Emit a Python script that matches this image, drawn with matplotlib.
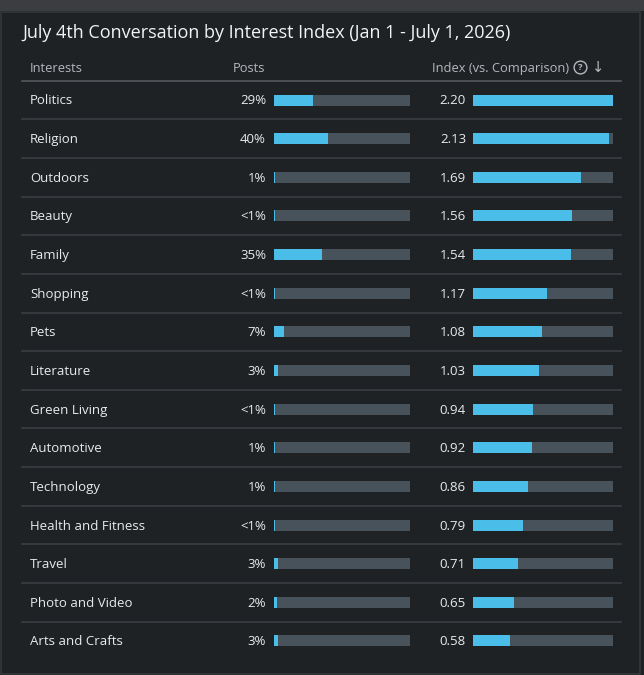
import matplotlib
matplotlib.use("Agg")
import matplotlib.pyplot as plt
from matplotlib.patches import Rectangle

interests = ["Politics", "Religion", "Outdoors", "Beauty", "Family", "Shopping", "Pets",
             "Literature", "Green Living", "Automotive", "Technology", "Health and Fitness",
             "Travel", "Photo and Video", "Arts and Crafts"]
posts_pct = [29, 40, 1, 0.4, 35, 0.4, 7, 3, 0.4, 1, 1, 0.4, 3, 2, 3]
posts_labels = ["29%", "40%", "1%", "<1%", "35%", "<1%", "7%", "3%", "<1%", "1%", "1%",
                "<1%", "3%", "2%", "3%"]
index_vals = [2.20, 2.13, 1.69, 1.56, 1.54, 1.17, 1.08, 1.03, 0.94, 0.92, 0.86, 0.79,
              0.71, 0.65, 0.58]

BG = "#1f2225"
TRACK = "#48525a"
BLUE = "#4bbde9"
TXT = "#e8eaec"
HDR = "#b4b8bc"
SEP = "#3a3e42"

plt.rcParams["font.family"] = ["Open Sans", "DejaVu Sans"]

W, H = 644, 675
fig = plt.figure(figsize=(W / 100, H / 100), dpi=100)
fig.patch.set_facecolor(BG)

ax = fig.add_axes([0, 0, 1, 1])
ax.set_xlim(0, W)
ax.set_ylim(H, 0)
ax.axis("off")

# top strip + panel border
ax.add_patch(Rectangle((0, 0), W, 11, facecolor="#3b3d40", edgecolor="none"))
ax.add_patch(Rectangle((1.5, 11.5), 639, 662, facecolor=BG, edgecolor="#33373a", lw=1.2))

ax.text(22, 33.5, "July 4th Conversation by Interest Index (Jan 1 - July 1, 2026)",
        fontsize=13.0, color="#f2f3f4", va="center", ha="left")

# header
hy = 68.5
ax.text(30, hy, "Interests", fontsize=9.3, color=HDR, va="center")
ax.text(233, hy, "Posts", fontsize=9.3, color=HDR, va="center")
ax.text(432, hy, "Index (vs. Comparison)", fontsize=9.3, color=HDR, va="center")
ax.text(580.5, hy - 1, "?", fontsize=6.8, color=HDR, va="center", ha="center", fontweight="bold",
        bbox=dict(boxstyle="circle,pad=0.2", facecolor="none", edgecolor=HDR, lw=1.0))
ax.text(598, hy - 1, "↓", fontsize=10.5, color=HDR, va="center", ha="center",
        family="DejaVu Sans")
ax.plot([22, 621], [81, 81], color="#55595d", lw=1.2)

row0, step = 100, 38.64
rows = [row0 + i * step for i in range(len(interests))]

for i, y in enumerate(rows):
    ax.text(30, y + 1, interests[i], fontsize=9.5, color=TXT, va="center")
    ax.text(266, y + 1, posts_labels[i], fontsize=9.5, color=TXT, va="center", ha="right")
    ax.text(466, y + 1, f"{index_vals[i]:.2f}", fontsize=9.5, color=TXT, va="center", ha="right")
    if i < len(interests) - 1:
        ax.plot([22, 621], [y + step / 2, y + step / 2], color=SEP, lw=1.2)

# bar columns
bh = 11
ax_p = fig.add_axes([274 / W, 0, 136 / W, 1])
ax_p.set_xlim(0, 100)
ax_p.set_ylim(H, 0)
ax_p.axis("off")
ax_p.barh(rows, [100] * len(rows), height=bh, color=TRACK)
ax_p.barh(rows, posts_pct, height=bh, color=BLUE)

ax_i = fig.add_axes([473 / W, 0, 140 / W, 1])
ax_i.set_xlim(0, 2.2)
ax_i.set_ylim(H, 0)
ax_i.axis("off")
ax_i.barh(rows, [2.2] * len(rows), height=bh, color=TRACK)
ax_i.barh(rows, index_vals, height=bh, color=BLUE)

fig.savefig("out.png", dpi=100, facecolor=BG)
